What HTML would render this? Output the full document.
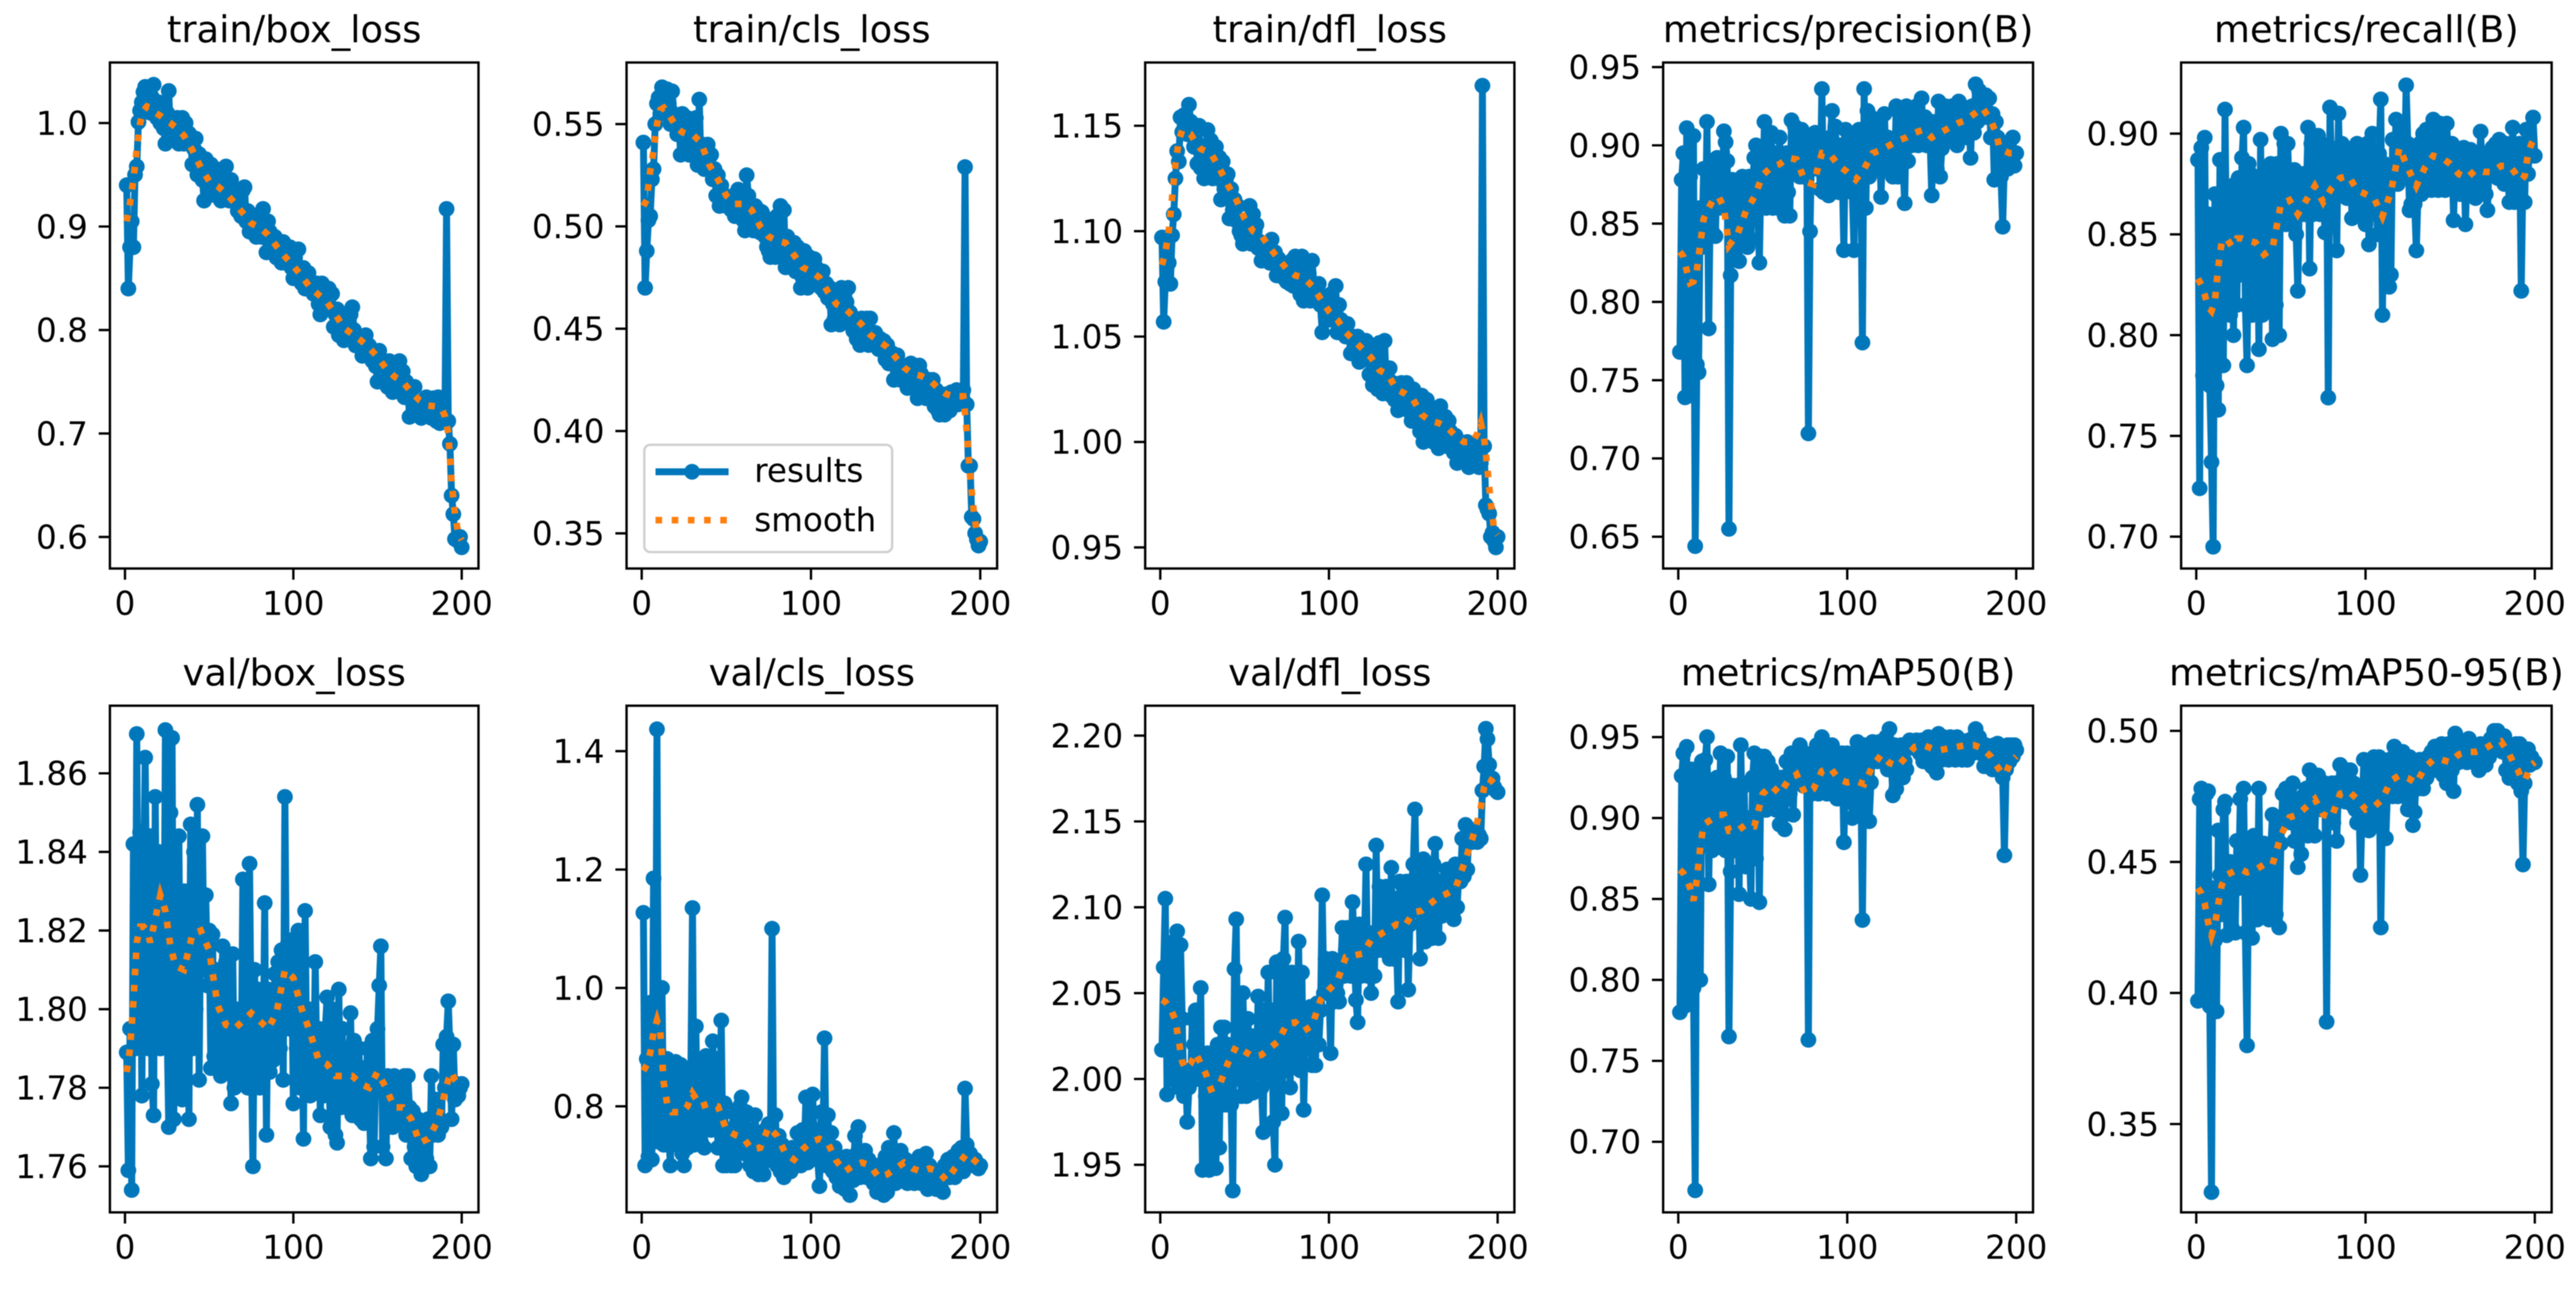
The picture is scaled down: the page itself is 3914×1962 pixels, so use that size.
<!DOCTYPE html>
<html lang="en">
<head>
<meta charset="utf-8">
<title>Training results</title>
<style>
html,body{margin:0;padding:0;background:#fff;width:3914px;height:1962px;overflow:hidden}
svg{display:block;filter:blur(0.7px)}
text{font-family:"DejaVu Sans","Liberation Sans",sans-serif;fill:#000}
</style>
</head>
<body>
<svg id="figure" xmlns="http://www.w3.org/2000/svg" width="3914" height="1962" viewBox="0 0 3914 1962"></svg>
<script>
// ---------- shared data ----------
const xTickValues = [0, 100, 200];
const xTickLabels = ["0", "100", "200"];
const smoothEpochs = [1,3,5,7,9,11,13,15,18,21,24,27,30,35,40,45,50,55,60,65,70,75,80,85,90,95,100,105,110,115,120,125,130,135,140,145,150,155,160,165,170,175,180,185,188,190,192,194,196,198,200];

// ---------- train/box_loss ----------
const trainBoxResults = [
.940,.840,.880,.905,.880,.950,.958,1.001,1.012,1.020,
1.030,1.035,1.020,1.030,1.010,1.025,1.037,1.015,1.005,1.020,
1.000,1.015,.995,.980,1.010,1.031,.985,1.005,.990,1.000,
1.005,.980,.995,1.005,.980,1.000,.985,.990,.985,.960,
.975,.985,.950,.970,.960,.945,.925,.965,.950,.935,
.960,.945,.955,.930,.945,.955,.925,.940,.945,.958,
.930,.925,.945,.935,.925,.930,.915,.925,.910,.935,
.938,.905,.915,.895,.905,.900,.910,.890,.895,.905,
.890,.917,.900,.875,.905,.895,.875,.880,.890,.870,
.885,.875,.865,.885,.865,.870,.865,.880,.860,.850,
.870,.860,.878,.855,.845,.860,.840,.850,.855,.842,
.840,.835,.845,.845,.825,.815,.845,.830,.840,.825,
.840,.820,.835,.803,.815,.820,.795,.810,.800,.790,
.810,.805,.800,.815,.822,.800,.785,.795,.790,.785,
.775,.790,.795,.775,.785,.780,.770,.780,.765,.750,
.780,.765,.750,.770,.760,.745,.770,.755,.740,.760,
.745,.755,.770,.745,.760,.735,.750,.745,.716,.735,
.720,.745,.730,.725,.725,.715,.730,.720,.735,.720,
.730,.715,.734,.725,.712,.735,.710,.722,.712,.712,
.917,.712,.690,.640,.622,.598,.597,.596,.600,.590];
const trainBoxSmooth = [.905,.923,.945,.975,1.0,1.012,1.016,1.015,1.01,1.007,1.003,1.0,.996,.988,.974,.957,.944,.939,.932,.923,.913,.903,.899,.892,.881,.871,.862,.852,.841,.834,.827,.815,.802,.796,.79,.783,.774,.763,.755,.75,.74,.732,.727,.726,.724,.717,.70,.653,.622,.603,.597];
const trainBoxTicks = [0.6,0.7,0.8,0.9,1.0];
const trainBoxTickLabels = ["0.6","0.7","0.8","0.9","1.0"];
const trainBoxLimits = [0.5695,1.0585];

// ---------- train/cls_loss ----------
const trainClsResults = [
.541,.470,.488,.503,.505,.523,.528,.550,.560,.563,
.555,.568,.565,.558,.567,.560,.550,.566,.555,.552,
.545,.550,.535,.555,.545,.540,.553,.535,.548,.545,
.540,.553,.530,.562,.530,.540,.528,.535,.540,.530,
.535,.523,.528,.515,.525,.510,.520,.512,.515,.510,
.513,.510,.508,.515,.505,.512,.518,.506,.512,.503,
.498,.525,.515,.505,.500,.498,.510,.503,.508,.497,
.507,.505,.495,.490,.488,.485,.495,.500,.485,.505,
.495,.510,.490,.508,.480,.495,.485,.480,.490,.492,
.478,.490,.485,.470,.475,.488,.482,.470,.485,.484,
.475,.484,.480,.476,.478,.470,.478,.468,.472,.465,
.470,.452,.462,.455,.460,.465,.452,.470,.462,.455,
.463,.470,.458,.455,.449,.455,.445,.452,.442,.455,
.450,.445,.455,.442,.455,.447,.443,.448,.445,.440,
.445,.440,.444,.435,.442,.433,.438,.438,.425,.433,
.437,.428,.425,.432,.425,.430,.421,.428,.433,.422,
.432,.430,.416,.432,.428,.420,.425,.416,.420,.425,
.418,.425,.412,.420,.410,.408,.418,.410,.408,.418,
.415,.410,.419,.415,.413,.420,.413,.416,.418,.420,
.529,.413,.383,.383,.358,.357,.350,.347,.344,.346];
const trainClsSmooth = [.51,.513,.527,.537,.55,.557,.558,.556,.552,.548,.546,.545,.545,.541,.53,.523,.515,.511,.511,.508,.5,.495,.493,.492,.486,.48,.478,.475,.468,.462,.46,.456,.452,.447,.444,.441,.436,.431,.428,.427,.425,.421,.418,.417,.417,.417,.40,.378,.362,.35,.346];
const trainClsTicks = [0.35,0.40,0.45,0.50,0.55];
const trainClsTickLabels = ["0.35","0.40","0.45","0.50","0.55"];
const trainClsLimits = [0.3328,0.5801];

// ---------- train/dfl_loss ----------
const trainDflResults = [
1.097,1.057,1.076,1.097,1.085,1.075,1.098,1.108,1.125,1.138,
1.133,1.154,1.147,1.155,1.150,1.146,1.160,1.152,1.145,1.140,
1.148,1.132,1.150,1.130,1.140,1.125,1.138,1.148,1.130,1.143,
1.125,1.128,1.140,1.125,1.135,1.115,1.133,1.120,1.125,1.127,
1.106,1.120,1.110,1.115,1.105,1.112,1.100,1.098,1.094,1.105,
1.100,1.095,1.112,1.094,1.108,1.100,1.103,1.092,1.095,1.086,
1.094,1.090,1.086,1.094,1.085,1.096,1.085,1.090,1.079,1.087,
1.080,1.085,1.078,1.083,1.076,1.082,1.075,1.086,1.074,1.088,
1.078,1.080,1.070,1.088,1.067,1.085,1.072,1.080,1.067,1.086,
1.075,1.070,1.072,1.075,1.065,1.052,1.068,1.060,1.065,1.058,
1.070,1.058,1.065,1.074,1.052,1.065,1.058,1.055,1.052,1.050,
1.056,1.050,1.042,1.050,1.045,1.042,1.050,1.038,1.048,1.044,
1.040,1.048,1.043,1.032,1.045,1.027,1.035,1.040,1.025,1.047,
1.030,1.023,1.048,1.025,1.030,1.035,1.022,1.028,1.020,1.024,
1.015,1.025,1.028,1.018,1.020,1.028,1.015,1.022,1.010,1.025,
1.012,1.020,1.017,1.005,1.022,1.000,1.010,1.020,1.005,1.008,
1.015,1.000,1.005,1.010,.997,1.017,1.005,1.000,1.012,.998,
1.010,1.005,1.000,.995,1.003,.990,.998,1.000,.993,.995,
.990,1.000,.988,.995,.998,.990,.992,1.000,.988,.990,
1.169,.998,.970,.968,.966,.955,.957,.953,.950,.955];
const trainDflSmooth = [1.084,1.09,1.10,1.116,1.132,1.143,1.148,1.147,1.146,1.142,1.139,1.138,1.137,1.13,1.122,1.115,1.106,1.10,1.098,1.092,1.087,1.082,1.079,1.078,1.074,1.068,1.062,1.058,1.052,1.048,1.044,1.04,1.034,1.032,1.025,1.023,1.02,1.013,1.01,1.009,1.007,1.003,1.0,1.0,1.004,1.009,1.002,.987,.971,.958,.956];
const trainDflTicks = [0.95,1.00,1.05,1.10,1.15];
const trainDflTickLabels = ["0.95","1.00","1.05","1.10","1.15"];
const trainDflLimits = [0.93998,1.18];

// ---------- metrics/precision(B) ----------
const precisionResults = [
.768,.878,.895,.739,.911,.740,.880,.800,.906,.644,
.760,.755,.860,.835,.885,.840,.915,.783,.870,.845,
.890,.842,.892,.860,.880,.870,.909,.902,.890,.655,
.817,.878,.865,.835,.855,.826,.870,.880,.838,.860,
.835,.880,.840,.875,.892,.900,.860,.825,.885,.870,
.915,.860,.895,.862,.908,.860,.895,.870,.860,.905,
.860,.880,.855,.895,.870,.855,.916,.885,.912,.885,
.905,.880,.910,.880,.895,.905,.716,.845,.905,.890,
.908,.885,.905,.872,.936,.870,.900,.895,.868,.905,
.922,.875,.912,.885,.870,.900,.885,.833,.910,.880,
.905,.875,.870,.833,.900,.880,.910,.885,.774,.936,
.860,.922,.880,.918,.900,.888,.915,.885,.910,.867,
.905,.920,.890,.905,.885,.900,.880,.885,.925,.880,
.920,.895,.888,.863,.925,.890,.920,.900,.922,.905,
.925,.900,.915,.930,.905,.918,.900,.915,.905,.868,
.915,.900,.885,.928,.880,.898,.910,.925,.905,.920,
.910,.925,.908,.920,.900,.928,.905,.925,.910,.915,
.905,.920,.892,.925,.908,.939,.915,.935,.925,.930,
.918,.932,.918,.930,.905,.920,.878,.915,.905,.900,
.880,.848,.890,.900,.885,.895,.890,.905,.887,.895];
const precisionSmooth = [.832,.829,.82,.812,.813,.82,.837,.853,.86,.866,.867,.86,.836,.843,.858,.867,.881,.886,.888,.892,.891,.877,.875,.895,.894,.887,.883,.878,.885,.895,.897,.9,.903,.905,.908,.91,.905,.908,.911,.914,.916,.92,.924,.916,.908,.899,.897,.896,.895,.895,.896];
const precisionTicks = [0.65,0.70,0.75,0.80,0.85,0.90,0.95];
const precisionTickLabels = ["0.65","0.70","0.75","0.80","0.85","0.90","0.95"];
const precisionLimits = [0.6297,0.9529];

// ---------- metrics/recall(B) ----------
const recallResults = [
.887,.724,.893,.780,.898,.780,.860,.775,.737,.695,
.870,.775,.763,.887,.810,.785,.912,.830,.870,.810,
.865,.800,.875,.815,.878,.830,.888,.903,.815,.785,
.885,.880,.810,.870,.815,.875,.793,.897,.810,.875,
.815,.880,.825,.885,.798,.880,.815,.885,.800,.900,
.860,.895,.855,.895,.870,.880,.855,.882,.850,.822,
.875,.860,.880,.860,.870,.903,.833,.895,.860,.890,
.865,.899,.860,.895,.875,.851,.890,.769,.913,.880,
.890,.872,.842,.910,.875,.895,.870,.893,.868,.880,
.890,.858,.885,.870,.895,.865,.890,.860,.885,.855,
.895,.845,.885,.900,.860,.885,.850,.890,.917,.810,
.885,.855,.880,.824,.830,.897,.880,.907,.875,.905,
.890,.900,.880,.924,.895,.862,.865,.890,.865,.842,
.870,.895,.870,.900,.880,.902,.875,.895,.872,.907,
.880,.900,.872,.905,.875,.895,.872,.905,.885,.875,
.895,.857,.890,.875,.890,.870,.888,.893,.855,.880,
.870,.892,.875,.890,.868,.885,.870,.901,.880,.890,
.870,.862,.885,.880,.893,.880,.895,.878,.897,.880,
.890,.875,.895,.880,.866,.885,.903,.866,.890,.875,
.895,.822,.880,.866,.902,.880,.895,.889,.908,.889];
const recallSmooth = [.828,.825,.82,.814,.812,.817,.834,.846,.848,.844,.848,.848,.847,.846,.84,.843,.865,.867,.86,.867,.874,.866,.873,.878,.879,.872,.87,.868,.859,.871,.893,.883,.874,.883,.889,.888,.885,.88,.878,.882,.881,.881,.884,.884,.881,.878,.877,.879,.89,.895,.898];
const recallTicks = [0.70,0.75,0.80,0.85,0.90];
const recallTickLabels = ["0.70","0.75","0.80","0.85","0.90"];
const recallLimits = [0.6842,0.9353];

// ---------- val/box_loss ----------
const valBoxResults = [
1.789,1.759,1.795,1.754,1.842,1.790,1.870,1.800,1.845,1.778,
1.830,1.864,1.820,1.790,1.844,1.781,1.773,1.854,1.800,1.840,
1.790,1.830,1.795,1.871,1.795,1.770,1.850,1.869,1.772,1.830,
1.780,1.844,1.795,1.777,1.830,1.790,1.830,1.772,1.847,1.790,
1.840,1.800,1.852,1.782,1.825,1.844,1.810,1.829,1.806,1.820,
1.785,1.819,1.788,1.810,1.785,1.800,1.783,1.816,1.790,1.812,
1.785,1.800,1.776,1.814,1.780,1.800,1.785,1.795,1.782,1.833,
1.785,1.800,1.780,1.837,1.790,1.760,1.810,1.782,1.805,1.780,
1.800,1.785,1.827,1.768,1.805,1.784,1.800,1.787,1.809,1.795,
1.812,1.790,1.815,1.782,1.854,1.800,1.817,1.795,1.810,1.776,
1.818,1.790,1.820,1.780,1.800,1.767,1.825,1.785,1.800,1.778,
1.795,1.780,1.812,1.785,1.795,1.773,1.790,1.778,1.795,1.803,
1.785,1.770,1.800,1.780,1.768,1.766,1.805,1.775,1.795,1.780,
1.790,1.775,1.785,1.799,1.773,1.792,1.780,1.775,1.790,1.772,
1.785,1.771,1.780,1.790,1.778,1.762,1.792,1.765,1.785,1.795,
1.806,1.816,1.765,1.780,1.762,1.783,1.772,1.778,1.770,1.783,
1.772,1.780,1.771,1.778,1.775,1.783,1.768,1.783,1.775,1.762,
1.774,1.765,1.760,1.772,1.762,1.758,1.770,1.760,1.762,1.772,
1.760,1.783,1.768,1.772,1.777,1.768,1.772,1.770,1.791,1.780,
1.793,1.802,1.790,1.772,1.791,1.777,1.781,1.778,1.780,1.781];
const valBoxSmooth = [1.784,1.79,1.802,1.817,1.821,1.821,1.82,1.817,1.823,1.829,1.825,1.816,1.811,1.81,1.819,1.82,1.815,1.801,1.796,1.795,1.797,1.799,1.797,1.795,1.799,1.81,1.808,1.80,1.794,1.787,1.786,1.783,1.783,1.783,1.781,1.78,1.784,1.78,1.775,1.775,1.772,1.766,1.767,1.771,1.775,1.779,1.782,1.784,1.782,1.781,1.78];
const valBoxTicks = [1.76,1.78,1.80,1.82,1.84,1.86];
const valBoxTickLabels = ["1.76","1.78","1.80","1.82","1.84","1.86"];
const valBoxLimits = [1.7483,1.8772];

// ---------- val/cls_loss ----------
const valClsResults = [
1.127,.700,.880,.715,.975,.710,1.185,.770,1.437,.740,
.860,1.000,.735,.820,.880,.745,.700,.860,.760,.875,
.735,.800,.870,.720,.700,.860,.730,.780,.850,1.135,
.735,.935,.760,.870,.740,.810,.730,.885,.770,.850,
.760,.910,.790,.880,.730,.800,.945,.700,.805,.700,
.760,.720,.700,.790,.700,.770,.720,.800,.815,.760,
.720,.790,.740,.700,.760,.690,.785,.730,.685,.750,
.700,.685,.760,.710,.770,.720,1.100,.710,.785,.700,
.750,.690,.735,.680,.730,.700,.720,.690,.730,.710,
.700,.755,.720,.700,.760,.720,.815,.705,.770,.720,
.820,.730,.760,.710,.665,.790,.740,.915,.700,.785,
.720,.755,.690,.730,.680,.710,.665,.700,.690,.660,
.715,.680,.650,.710,.675,.750,.720,.765,.680,.700,
.690,.725,.680,.710,.690,.700,.670,.690,.655,.700,
.660,.680,.650,.715,.655,.730,.670,.690,.755,.670,
.700,.680,.725,.690,.680,.710,.670,.690,.680,.700,
.670,.705,.680,.715,.670,.700,.690,.720,.660,.700,
.680,.665,.690,.660,.670,.680,.660,.655,.700,.680,
.710,.680,.690,.715,.680,.700,.725,.690,.730,.690,
.830,.735,.700,.720,.705,.700,.710,.700,.695,.700];
const valClsSmooth = [.86,.87,.89,.925,.945,.925,.84,.805,.79,.79,.79,.80,.822,.80,.805,.80,.76,.752,.747,.727,.73,.765,.75,.72,.71,.727,.74,.745,.738,.708,.69,.70,.705,.70,.68,.685,.695,.705,.695,.69,.695,.69,.675,.695,.705,.713,.72,.715,.71,.705,.70];
const valClsTicks = [0.8,1.0,1.2,1.4];
const valClsTickLabels = ["0.8","1.0","1.2","1.4"];
const valClsLimits = [0.6208,1.4768];

// ---------- val/dfl_loss ----------
const valDflResults = [
2.017,2.065,2.105,1.991,2.030,2.075,2.000,2.080,2.020,2.086,
1.995,2.078,2.035,1.990,2.005,1.975,1.995,2.000,2.035,2.020,
2.040,2.000,2.015,2.053,1.947,2.010,1.990,2.015,1.947,2.000,
1.962,2.015,1.948,2.020,1.960,2.030,1.985,2.030,1.985,2.020,
2.005,1.985,1.935,2.064,2.093,2.000,2.030,1.990,2.050,2.010,
1.990,2.035,2.000,2.025,1.992,2.015,2.005,2.048,2.010,1.995,
1.969,2.040,2.015,2.062,2.000,2.040,1.975,1.950,2.068,2.000,
2.060,1.980,2.070,2.094,2.005,2.050,1.995,2.062,2.015,2.030,
2.010,2.080,2.005,2.062,1.982,2.025,2.040,2.020,2.042,2.008,
2.030,2.008,2.044,2.020,2.040,2.107,2.050,2.070,2.060,2.055,
2.015,2.070,2.045,2.055,2.050,2.045,2.065,2.088,2.060,2.075,
2.088,2.075,2.060,2.103,2.075,2.046,2.033,2.090,2.060,2.085,
2.075,2.125,2.060,2.085,2.050,2.075,2.060,2.136,2.075,2.112,
2.085,2.075,2.095,2.112,2.080,2.070,2.123,2.070,2.105,2.080,
2.045,2.115,2.085,2.112,2.075,2.115,2.052,2.090,2.115,2.125,
2.157,2.098,2.125,2.070,2.105,2.128,2.080,2.120,2.100,2.112,
2.082,2.125,2.137,2.100,2.082,2.115,2.095,2.112,2.110,2.122,
2.100,2.122,2.115,2.093,2.125,2.100,2.120,2.115,2.140,2.118,
2.148,2.122,2.145,2.140,2.138,2.145,2.140,2.138,2.142,2.140,
2.168,2.182,2.204,2.198,2.183,2.172,2.175,2.170,2.168,2.167];
const valDflSmooth = [2.046,2.045,2.042,2.039,2.034,2.022,2.01,2.006,2.009,2.015,2.009,2.003,1.994,1.996,2.009,2.019,2.016,2.013,2.014,2.018,2.022,2.032,2.033,2.028,2.031,2.046,2.052,2.057,2.071,2.072,2.073,2.081,2.084,2.087,2.09,2.089,2.097,2.098,2.102,2.106,2.108,2.111,2.125,2.14,2.15,2.158,2.17,2.175,2.174,2.172,2.172];
const valDflTicks = [1.95,2.00,2.05,2.10,2.15,2.20];
const valDflTickLabels = ["1.95","2.00","2.05","2.10","2.15","2.20"];
const valDflLimits = [1.9223,2.2174];

// ---------- metrics/mAP50(B) ----------
const map50Results = [
.780,.926,.940,.784,.944,.785,.900,.930,.795,.670,
.910,.930,.800,.935,.890,.936,.950,.859,.920,.880,
.922,.900,.925,.882,.940,.900,.925,.880,.938,.765,
.867,.920,.880,.895,.920,.853,.945,.880,.920,.870,
.900,.885,.850,.925,.940,.875,.930,.848,.938,.915,
.938,.905,.935,.915,.930,.910,.925,.905,.920,.896,
.925,.910,.893,.935,.925,.915,.940,.902,.935,.925,
.940,.945,.925,.920,.940,.935,.763,.935,.915,.940,
.925,.945,.915,.940,.950,.920,.945,.915,.940,.935,
.945,.920,.940,.912,.935,.912,.940,.885,.925,.940,
.910,.935,.900,.925,.940,.947,.905,.930,.837,.945,
.925,.940,.898,.922,.947,.935,.945,.935,.947,.935,
.945,.935,.950,.930,.955,.935,.914,.945,.918,.940,
.932,.945,.925,.935,.930,.945,.948,.945,.945,.943,
.948,.945,.940,.948,.935,.945,.940,.950,.945,.932,
.948,.930,.928,.952,.945,.936,.950,.938,.948,.936,
.950,.938,.945,.936,.950,.938,.948,.936,.945,.940,
.936,.948,.945,.940,.950,.955,.942,.950,.940,.945,
.932,.945,.932,.935,.940,.930,.945,.935,.946,.930,
.944,.925,.877,.930,.945,.935,.945,.938,.945,.942];
const map50Smooth = [.868,.866,.862,.857,.849,.862,.882,.896,.898,.90,.902,.902,.892,.892,.896,.895,.915,.92,.915,.923,.927,.915,.918,.929,.931,.924,.922,.923,.921,.932,.939,.934,.932,.938,.944,.945,.943,.942,.943,.944,.945,.945,.943,.938,.933,.93,.927,.928,.933,.936,.938];
const map50Ticks = [0.70,0.75,0.80,0.85,0.90,0.95];
const map50TickLabels = ["0.70","0.75","0.80","0.85","0.90","0.95"];
const map50Limits = [0.6564,0.9694];

// ---------- metrics/mAP50-95(B) ----------
const map5095Results = [
.397,.474,.478,.420,.400,.476,.477,.395,.324,.440,
.420,.393,.462,.445,.430,.470,.473,.422,.440,.450,
.425,.445,.423,.458,.440,.474,.445,.478,.423,.380,
.458,.440,.421,.460,.445,.428,.478,.430,.450,.457,
.430,.448,.428,.455,.468,.440,.430,.465,.425,.457,
.476,.465,.478,.470,.478,.465,.480,.458,.472,.448,
.470,.453,.475,.465,.478,.460,.485,.472,.480,.460,
.478,.483,.480,.470,.475,.480,.389,.478,.470,.480,
.465,.480,.458,.478,.487,.475,.482,.473,.485,.478,
.485,.472,.480,.470,.465,.478,.445,.470,.489,.465,
.480,.462,.488,.470,.490,.465,.478,.490,.425,.470,
.488,.459,.478,.489,.480,.475,.494,.485,.475,.490,
.480,.492,.475,.488,.470,.490,.480,.464,.469,.485,
.478,.489,.480,.478,.488,.482,.490,.485,.492,.488,
.494,.485,.493,.490,.495,.483,.493,.480,.495,.490,
.485,.477,.499,.492,.488,.496,.490,.495,.492,.488,
.497,.490,.495,.488,.493,.490,.485,.495,.488,.492,
.487,.495,.490,.497,.493,.500,.498,.500,.495,.498,
.492,.498,.485,.495,.482,.493,.485,.490,.495,.480,
.495,.477,.449,.480,.490,.493,.487,.490,.488,.488];
const map5095Smooth = [.44,.438,.434,.427,.422,.426,.434,.441,.445,.446,.447,.447,.446,.447,.449,.449,.46,.467,.468,.471,.474,.468,.467,.476,.477,.474,.47,.471,.474,.481,.483,.482,.48,.486,.489,.489,.488,.491,.492,.492,.493,.495,.496,.491,.487,.485,.482,.481,.484,.487,.488];
const map5095Ticks = [0.35,0.40,0.45,0.50];
const map5095TickLabels = ["0.35","0.40","0.45","0.50"];
const map5095Limits = [0.3163,0.5096];

// ---------- layout constants ----------
const NS = "http://www.w3.org/2000/svg";
const BLUE = "#0177bb";
const ORANGE = "#ff7f0e";
const X_MIN = -8.95, X_MAX = 209.95;
const COL_SPANS = [[167,727],[952,1515],[1740,2301],[2527,3089],[3314,3877]];
const ROW_SPANS = [[95,864],[1072.5,1842.5]];
const TICK_FONT = 49.5, TITLE_FONT = 56, LEGEND_FONT = 49.5;
const LINE_WIDTH = 10.5, MARKER_R = 12, DOT_WIDTH = 10, DOT_PATTERN = "10 14.6";
const panels = [
  {slug:"train-box-loss",title:"train/box_loss",col:0,row:0,res:trainBoxResults,smo:trainBoxSmooth,ticks:trainBoxTicks,labels:trainBoxTickLabels,lim:trainBoxLimits},
  {slug:"train-cls-loss",title:"train/cls_loss",col:1,row:0,res:trainClsResults,smo:trainClsSmooth,ticks:trainClsTicks,labels:trainClsTickLabels,lim:trainClsLimits,legend:true},
  {slug:"train-dfl-loss",title:"train/dfl_loss",col:2,row:0,res:trainDflResults,smo:trainDflSmooth,ticks:trainDflTicks,labels:trainDflTickLabels,lim:trainDflLimits},
  {slug:"metrics-precision",title:"metrics/precision(B)",col:3,row:0,res:precisionResults,smo:precisionSmooth,ticks:precisionTicks,labels:precisionTickLabels,lim:precisionLimits},
  {slug:"metrics-recall",title:"metrics/recall(B)",col:4,row:0,res:recallResults,smo:recallSmooth,ticks:recallTicks,labels:recallTickLabels,lim:recallLimits},
  {slug:"val-box-loss",title:"val/box_loss",col:0,row:1,res:valBoxResults,smo:valBoxSmooth,ticks:valBoxTicks,labels:valBoxTickLabels,lim:valBoxLimits},
  {slug:"val-cls-loss",title:"val/cls_loss",col:1,row:1,res:valClsResults,smo:valClsSmooth,ticks:valClsTicks,labels:valClsTickLabels,lim:valClsLimits},
  {slug:"val-dfl-loss",title:"val/dfl_loss",col:2,row:1,res:valDflResults,smo:valDflSmooth,ticks:valDflTicks,labels:valDflTickLabels,lim:valDflLimits},
  {slug:"metrics-map50",title:"metrics/mAP50(B)",col:3,row:1,res:map50Results,smo:map50Smooth,ticks:map50Ticks,labels:map50TickLabels,lim:map50Limits},
  {slug:"metrics-map50-95",title:"metrics/mAP50-95(B)",col:4,row:1,res:map5095Results,smo:map5095Smooth,ticks:map5095Ticks,labels:map5095TickLabels,lim:map5095Limits}
];

const svg = document.getElementById("figure");

function make(tag, attrs, parent) {
  const el = document.createElementNS(NS, tag);
  for (const k in attrs) el.setAttribute(k, attrs[k]);
  parent.appendChild(el);
  return el;
}

function polyline(xs, ys) {
  let d = "";
  for (let i = 0; i < xs.length; i++) d += (i ? "L" : "M") + xs[i].toFixed(1) + " " + ys[i].toFixed(1);
  return d;
}

function drawPanel(p) {
  const [left, right] = COL_SPANS[p.col];
  const [top, bottom] = ROW_SPANS[p.row];
  const xScale = v => left + (v - X_MIN) / (X_MAX - X_MIN) * (right - left);
  const yScale = v => bottom - (v - p.lim[0]) / (p.lim[1] - p.lim[0]) * (bottom - top);

  const g = make("g", {}, svg);
  
  

  // results line and markers
  const epochs = p.res.map((_, i) => i + 1);
  const line = make("path", {d: polyline(epochs.map(xScale), p.res.map(yScale)), fill:"none", stroke:BLUE, "stroke-width":LINE_WIDTH, "stroke-linejoin":"round"}, g);
  
  
  p.res.forEach((v, i) => {
    const dot = make("circle", {cx: xScale(i + 1).toFixed(1), cy: yScale(v).toFixed(1), r: MARKER_R, fill: BLUE}, g);
    
    
  });

  // smooth line
  const smooth = make("path", {d: polyline(smoothEpochs.map(xScale), p.smo.map(yScale)), fill:"none", stroke:ORANGE, "stroke-width":DOT_WIDTH, "stroke-dasharray":DOT_PATTERN}, g);
  
  

  // frame
  const frame = make("rect", {x:left, y:top, width:right-left, height:bottom-top, fill:"none", stroke:"#000", "stroke-width":3.6}, g);
  
  

  // x ticks
  xTickValues.forEach((v, i) => {
    const x = xScale(v);
    const tick = make("line", {x1:x, x2:x, y1:bottom, y2:bottom+17, stroke:"#000", "stroke-width":3.6}, g);
    
    
    const label = make("text", {x:x, y:bottom+70.5, "text-anchor":"middle", "font-size":TICK_FONT}, g);
    
    
    label.textContent = xTickLabels[i];
  });

  // y ticks
  p.ticks.forEach((v, i) => {
    const y = yScale(v);
    const tick = make("line", {x1:left-17, x2:left, y1:y, y2:y, stroke:"#000", "stroke-width":3.6}, g);
    
    
    const label = make("text", {x:left-33.5, y:y+18, "text-anchor":"end", "font-size":TICK_FONT}, g);
    
    
    label.textContent = p.labels[i];
  });

  // title
  const title = make("text", {x:(left+right)/2, y:top-31, "text-anchor":"middle", "font-size":TITLE_FONT}, g);
  
  
  title.textContent = p.title;

  if (p.legend) drawLegend(g);
}

function drawLegend(parent) {
  const g = make("g", {}, parent);
  
  
  const box = make("rect", {x:979, y:676, width:376.5, height:163, rx:9, ry:9, fill:"#fff", "fill-opacity":0.8, stroke:"#cfcfcf", "stroke-width":3.6}, g);
  
  
  const l1 = make("line", {x1:996, x2:1107, y1:717, y2:717, stroke:BLUE, "stroke-width":LINE_WIDTH}, g);
  
  
  const m1 = make("circle", {cx:1051.5, cy:717, r:MARKER_R, fill:BLUE}, g);
  
  
  const t1 = make("text", {x:1146, y:732.5, "font-size":LEGEND_FONT}, g);
  
  
  t1.textContent = "results";
  const l2 = make("line", {x1:996, x2:1107, y1:790.5, y2:790.5, stroke:ORANGE, "stroke-width":DOT_WIDTH, "stroke-dasharray":DOT_PATTERN}, g);
  
  
  const t2 = make("text", {x:1146, y:807.5, "font-size":LEGEND_FONT}, g);
  
  
  t2.textContent = "smooth";
}

panels.forEach(drawPanel);
</script>
</body>
</html>
